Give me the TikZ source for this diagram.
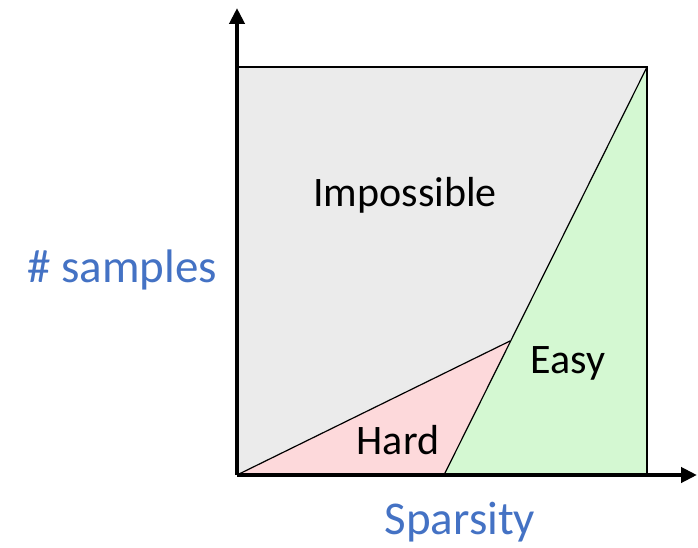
\documentclass[tikz,border=0pt]{standalone}
\usepackage{fontspec}
\setmainfont{Carlito}
\usepackage{xcolor}
\definecolor{labelblue}{HTML}{4472C4}
\definecolor{impfill}{HTML}{EBEBEB}
\definecolor{hardfill}{HTML}{FDD9DB}
\definecolor{easyfill}{HTML}{D4F8D2}
\usetikzlibrary{arrows.meta}

\begin{document}
\begin{tikzpicture}[x=1pt, y=1pt,
    region/.style={font=\fontsize{42}{50}\selectfont},
    axislabel/.style={font=\fontsize{47}{56}\selectfont, text=labelblue}]
  \useasboundingbox (0,0) rectangle (698,547);
  \coordinate (origin) at (237,72);
  \coordinate (topleft) at (237,480);
  \coordinate (topright) at (647,480);
  \coordinate (botright) at (647,72);
  \coordinate (hardtop) at (510,206);
  \coordinate (easyfoot) at (444,72);
  \coordinate (xtip) at (697,72);
  \coordinate (ytip) at (237,539);

  % regions
  \fill[impfill] (origin) rectangle (topright);
  \fill[hardfill] (origin) -- (hardtop) -- (easyfoot) -- cycle;
  \fill[easyfill] (easyfoot) -- (topright) -- (botright) -- cycle;

  % borders
  \draw[line width=2pt] (topleft) -- (topright) -- (botright);
  \draw[line width=1.2pt] (origin) -- (hardtop);
  \draw[line width=1.2pt] (easyfoot) -- (topright);

  % axes
  \draw[line width=4pt, -{Triangle[length=16pt,width=15pt]}] (origin) -- (xtip);
  \draw[line width=4pt, -{Triangle[length=16pt,width=15pt]}] (origin) -- (ytip);

  % labels
  \node[region] (impossible) at (405,352) {Impossible};
  \node[region] (easy) at (568,184) {Easy};
  \node[region] (hard) at (398,107) {Hard};
  \node[axislabel] (samples) at (122,277) {\# samples};
  \node[axislabel] (sparsity) at (460,25) {Sparsity};
\end{tikzpicture}
\end{document}
